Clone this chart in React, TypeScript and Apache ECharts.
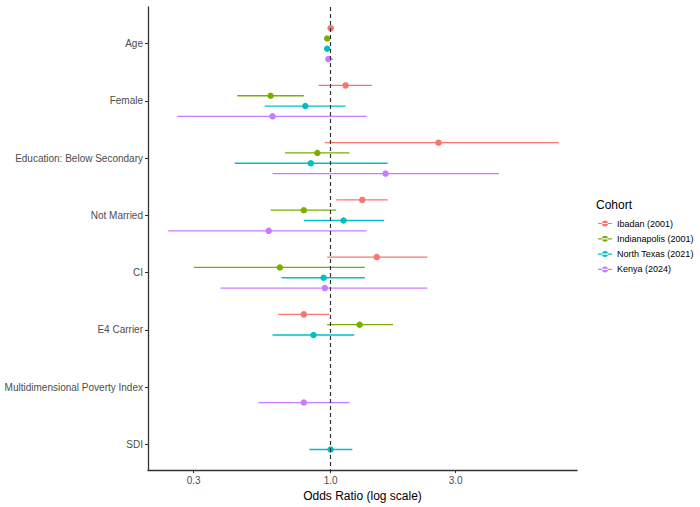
import React, { useEffect, useRef } from "react";
import * as echarts from "echarts";

const categories = [
  "Age",
  "Female",
  "Education: Below Secondary",
  "Not Married",
  "CI",
  "E4 Carrier",
  "Multidimensional Poverty Index",
  "SDI",
];
const cohorts = ["Ibadan (2001)", "Indianapolis (2001)", "North Texas (2021)", "Kenya (2024)"];
const colors = ["#F8766D", "#7CAE00", "#00BFC4", "#C77CFF"];

const ibadanOR = [1.0, 1.14, 2.58, 1.32, 1.5, 0.79, null, null];
const ibadanLo = [0.99, 0.9, 0.95, 1.05, 0.97, 0.63, null, null];
const ibadanHi = [1.01, 1.44, 7.42, 1.65, 2.34, 0.99, null, null];

const indianapolisOR = [0.97, 0.59, 0.89, 0.79, 0.64, 1.29, null, null];
const indianapolisLo = [0.945, 0.44, 0.67, 0.59, 0.3, 0.97, null, null];
const indianapolisHi = [0.995, 0.79, 1.18, 1.05, 1.35, 1.73, null, null];

const northTexasOR = [0.97, 0.8, 0.84, 1.12, 0.94, 0.86, null, 1.0];
const northTexasLo = [0.955, 0.56, 0.43, 0.79, 0.65, 0.6, null, 0.83];
const northTexasHi = [0.985, 1.14, 1.65, 1.6, 1.35, 1.23, null, 1.21];

const kenyaOR = [0.98, 0.6, 1.62, 0.58, 0.95, null, 0.79, null];
const kenyaLo = [0.96, 0.26, 0.6, 0.24, 0.38, null, 0.53, null];
const kenyaHi = [1.02, 1.37, 4.39, 1.37, 2.34, null, 1.18, null];

const xTicks = [0.3, 1.0, 3.0];

const cohortData = [
  { or: ibadanOR, lo: ibadanLo, hi: ibadanHi },
  { or: indianapolisOR, lo: indianapolisLo, hi: indianapolisHi },
  { or: northTexasOR, lo: northTexasLo, hi: northTexasHi },
  { or: kenyaOR, lo: kenyaLo, hi: kenyaHi },
];

const FONT = "'Liberation Sans', Arial, Helvetica, sans-serif";
const DODGE = 0.18;

export default function App() {
  const ref = useRef<HTMLDivElement>(null);

  useEffect(() => {
    if (!ref.current) return;
    const chart = echarts.init(ref.current, undefined, { renderer: "svg" });

    const series: any[] = [];
    series.push({
      type: "line",
      data: [],
      silent: true,
      z: 1,
      markLine: {
        silent: true,
        symbol: "none",
        label: { show: false },
        lineStyle: { type: [4, 3], color: "#333333", width: 1.2 },
        data: [{ xAxis: 0 }],
      },
    });

    cohortData.forEach((c, i) => {
      const off = (i - 1.5) * DODGE;
      const barData: any[] = [];
      const ptData: any[] = [];
      c.or.forEach((v, k) => {
        if (v == null) return;
        barData.push([Math.log10(c.lo[k] as number), Math.log10(c.hi[k] as number), k + off]);
        ptData.push([Math.log10(v), k + off]);
      });
      series.push({
        name: cohorts[i],
        type: "scatter",
        data: ptData,
        symbol: "circle",
        symbolSize: 6.5,
        itemStyle: { color: colors[i], opacity: 1 },
        z: 3,
      });
      series.push({
        name: cohorts[i],
        type: "custom",
        data: barData,
        z: 2,
        encode: { x: [0, 1], y: 2 },
        renderItem: (params: any, api: any) => {
          const y = api.value(2);
          const p1 = api.coord([api.value(0), y]);
          const p2 = api.coord([api.value(1), y]);
          return {
            type: "line",
            shape: { x1: p1[0], y1: p1[1], x2: p2[0], y2: p2[1] },
            style: { stroke: colors[i], lineWidth: 1.3 },
          };
        },
      });
    });

    const legendIcon =
      "path://M0,4.4L14,4.4L14,5.6L0,5.6Z M4,5A3,3,0,1,0,10,5A3,3,0,1,0,4,5Z";

    chart.setOption({
      animation: false,
      backgroundColor: "#ffffff",
      textStyle: { fontFamily: FONT },
      grid: { left: 148, right: 123, top: 7, bottom: 34 },
      xAxis: {
        type: "value",
        min: Math.log10(0.2009),
        max: Math.log10(8.71),
        name: "Odds Ratio (log scale)",
        nameLocation: "middle",
        nameGap: 17,
        nameTextStyle: { color: "#000000", fontSize: 12, fontFamily: FONT },
        axisLine: { show: true, onZero: false, lineStyle: { color: "#333333", width: 1.3 } },
        axisTick: {
          show: true,
          length: 3,
          lineStyle: { color: "#333333" },
          customValues: xTicks.map((t) => Math.log10(t)),
        },
        axisLabel: {
          color: "#4D4D4D",
          fontSize: 10,
          margin: 5,
          fontFamily: FONT,
          customValues: xTicks.map((t) => Math.log10(t)),
          formatter: (v: number) => Math.pow(10, v).toFixed(1),
        },
        splitLine: { show: false },
      },
      yAxis: {
        type: "value",
        inverse: true,
        min: -0.64,
        max: 7.45,
        axisLine: { show: true, onZero: false, lineStyle: { color: "#333333", width: 1.3 } },
        axisTick: {
          show: true,
          length: 3,
          lineStyle: { color: "#333333" },
          customValues: categories.map((_, k) => k),
        },
        axisLabel: {
          color: "#4D4D4D",
          fontSize: 10,
          margin: 5,
          fontFamily: FONT,
          customValues: categories.map((_, k) => k),
          formatter: (v: number) => categories[Math.round(v)] ?? "",
        },
        splitLine: { show: false },
      },
      legend: {
        orient: "vertical",
        left: 598,
        top: 219,
        padding: 0,
        itemWidth: 14,
        itemHeight: 6,
        itemGap: 6.3,
        icon: legendIcon,
        data: cohorts.map((n) => ({ name: n, icon: legendIcon })),
        textStyle: { color: "#000000", fontSize: 9, fontFamily: FONT },
        selectedMode: false,
      },
      graphic: [
        {
          type: "text",
          left: 596,
          top: 199,
          style: { text: "Cohort", fill: "#000000", fontSize: 12, fontFamily: FONT },
        },
      ],
      series,
    });

    return () => chart.dispose();
  }, []);

  return (
    <div
      ref={ref}
      style={{ position: "fixed", left: 0, top: 0, width: 700, height: 507, background: "#fff" }}
    />
  );
}
